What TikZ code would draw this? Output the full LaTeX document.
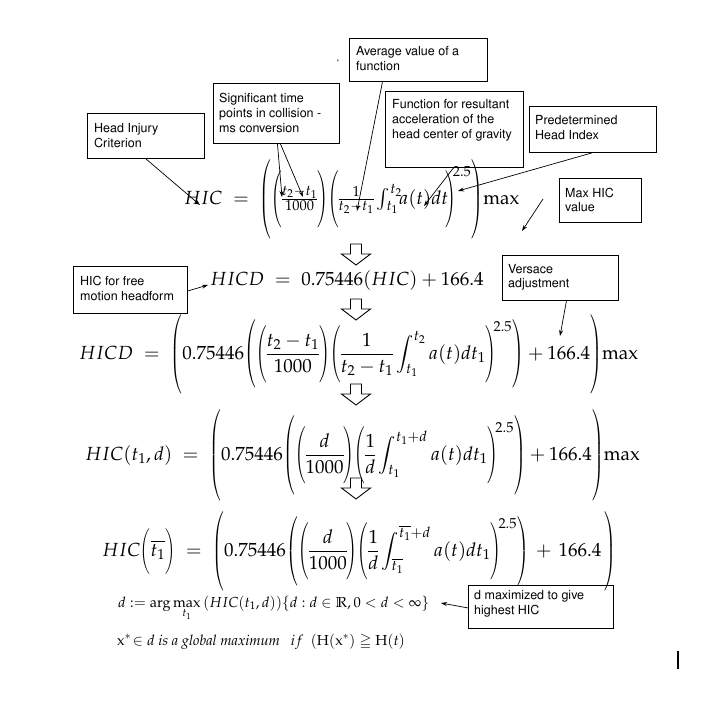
\documentclass[tikz,border=0pt]{standalone}
\usepackage[T1]{fontenc}
\usepackage{mathpazo}
\usepackage{helvet}
\usepackage{amsmath,amssymb}
\usetikzlibrary{arrows.meta,calc}

\nulldelimiterspace=0pt
\delimitershortfall=0pt
\delimiterfactor=1000

% narrow stretched parentheses; argument = half height (pt) about the math axis
\newcommand{\lpar}[1]{\mathopen{\scalebox{0.7}[1]{$\left(\vrule height #1pt depth #1pt width 0pt\right.$}}}
\newcommand{\rpar}[1]{\mathclose{\scalebox{0.7}[1]{$\left.\vrule height #1pt depth #1pt width 0pt\right)$}}}
% exponent tucked against the closing parenthesis
\newcommand{\pw}{^{\kern-3pt 2.5}}

\tikzset{
  box/.style={draw=black, line width=0.9pt, inner sep=0pt, anchor=north west},
  note/.style={font=\fontsize{12.5}{15}\selectfont\sffamily, inner sep=0pt, align=left, anchor=base west},
  notetight/.style={note, font=\fontsize{12.5}{14}\selectfont\sffamily},
  conn/.style={line width=0.7pt, -{Stealth[length=6pt,width=4pt]}},
  eq/.style={font=\fontsize{19}{23}\selectfont, inner sep=0pt, anchor=base west},
  small/.style={font=\fontsize{14.5}{17}\selectfont, inner sep=0pt, anchor=base west},
  hollow/.style={draw=black, line width=0.9pt, line join=miter, fill=white}
}

% hollow downward block arrow: centre x, top y
\newcommand{\hollowdown}[2]{%
  \draw[hollow] (#1-5.5,#2) -- (#1+5.5,#2) -- (#1+5.5,#2+10) -- (#1+14.5,#2+10)
    -- (#1,#2+21) -- (#1-14.5,#2+10) -- (#1-5.5,#2+10) -- cycle;}

\begin{document}
\begin{tikzpicture}[x=1pt,y=-1pt]
\useasboundingbox (0,0) rectangle (723,710);
\fill[white] (0,0) rectangle (723,710);

% ---------- annotation boxes (text anchored at its last baseline) ----------
\node[box, minimum width=117pt, minimum height=45pt] (hicb) at (87,113) {};
\node[note] at (94,147.5) {Head Injury\\Criterion};

\node[box, minimum width=126pt, minimum height=60pt] (sigb) at (213,83) {};
\node[note] at (219,132) {Significant time\\points in collision -\\ms conversion};

\node[box, minimum width=138pt, minimum height=43pt] (avgb) at (349,38) {};
\node[note] at (356,70.5) {Average value of a\\function};

\node[box, minimum width=138pt, minimum height=76pt] (funb) at (385,91) {};
\node[note] at (392,138) {Function for resultant\\acceleration of the\\head center of gravity};

\node[box, minimum width=127pt, minimum height=46pt] (preb) at (529,106) {};
\node[note] at (535,139.5) {Predetermined\\Head Index};

\node[box, minimum width=82pt, minimum height=44pt] (maxb) at (559,178) {};
\node[notetight] at (565,211) {Max HIC\\value};

\node[box, minimum width=114pt, minimum height=47pt] (freeb) at (73,266) {};
\node[note] at (80,300) {HIC for free\\motion headform};

\node[box, minimum width=116pt, minimum height=45pt] (verb) at (502,255) {};
\node[notetight] at (508,287) {Versace\\adjustment};

\node[box, minimum width=145pt, minimum height=43pt] (dmb) at (468,585) {};
\node[note] at (474,614) {d maximized to give\\highest HIC};

\node[font=\sffamily, inner sep=0pt] (tick) at (338,63) {`};

% ---------- equations ----------
\node[eq] (e1) at (184,204) {$HIC\;=\;\lpar{31}\lpar{19}\frac{t_2-t_1}{1000}\rpar{19}\lpar{19}\frac{1}{t_2-t_1}\int_{t_1}^{t_2}\!\!a(t)dt\!\rpar{19}\pw\rpar{31}\mathrm{max}$};

\node[eq] (e2) at (210,285) {$HICD\;=\;0.75446(HIC)+166.4$};

\node[eq] (e3) at (79,359) {$\displaystyle HICD\;=\;\lpar{32}0.75446\lpar{26}\lpar{19}\frac{t_2-t_1}{1000}\rpar{19}
  \lpar{19}\frac{1}{t_2-t_1}\int_{t_1}^{t_2}a(t)dt_1\rpar{19}\pw\rpar{26}+166.4\rpar{32}\mathrm{max}$};

\node[eq] (e4) at (85,460) {$\displaystyle HIC(t_1,d)\;=\;\lpar{38}0.75446\lpar{31}\lpar{20}\frac{d}{1000}\rpar{20}
  \lpar{20}\frac{1}{d}\int_{t_1}^{t_1+d}a(t)dt_1\rpar{20}\pw\rpar{31}+166.4\rpar{38}\mathrm{max}$};

\node[eq] (e5) at (102,556) {$\displaystyle HIC\lpar{14}\overline{t_1}\rpar{14}\;=\;\lpar{34}0.75446\lpar{28}\lpar{20}\frac{d}{1000}\rpar{20}
  \lpar{20}\frac{1}{d}\int_{\overline{t_1}}^{\overline{t_1}+d}a(t)dt_1\rpar{20}\pw\rpar{28}\,+\,166.4\,\rpar{34}$};

\node[small] (e6) at (118,607) {$d:=\arg\max\limits_{t_1}\,(HIC(t_1,d))\{d:d\in\mathbb{R},0<d<\infty\}$};

\node[small] (e7) at (117,645) {$\mathrm{x}^{*}\!\in d$ \textit{is a global maximum}\ \ \ $if$\ \ $(\mathrm{H}(\mathrm{x}^{*})\geqq\mathrm{H}(t)$};

% ---------- derivation arrows ----------
\hollowdown{356}{244}
\hollowdown{356}{299}
\hollowdown{356}{384}
\hollowdown{356}{478}

% ---------- connector targets ----------
\coordinate (tHIC) at (200,205);
\coordinate (tT1) at (282,197);
\coordinate (tT2) at (303,197);
\coordinate (tAvg) at (357,211);
\coordinate (tFun) at (424,206);
\coordinate (tPre) at (458,191);
\coordinate (sMax) at (543,199);
\coordinate (tMax) at (522,231);
\coordinate (tFree) at (208,285);
\coordinate (tVer) at (560,336);
\coordinate (tDm) at (441,603);

\draw[conn] (hicb.south) -- (tHIC);
\draw[conn] ([xshift=1pt]sigb.south) -- (tT1);
\draw[conn] ([xshift=4pt]sigb.south) -- (tT2);
\draw[conn] ([xshift=-36pt]avgb.south) -- (tAvg);
\draw[conn] ([xshift=-1pt]funb.south) -- (tFun);
\draw[conn] ([xshift=-1pt]preb.south) -- (tPre);
\draw[conn] (sMax) -- (tMax);
\draw[conn] ([yshift=-1pt]freeb.east) -- (tFree);
\draw[conn] ([xshift=6pt]verb.south) -- (tVer);
\draw[conn] ([yshift=-1pt]dmb.west) -- (tDm);

% text cursor mark
\draw[line width=2pt] (678,651) -- (678,669);
\end{tikzpicture}
\end{document}
